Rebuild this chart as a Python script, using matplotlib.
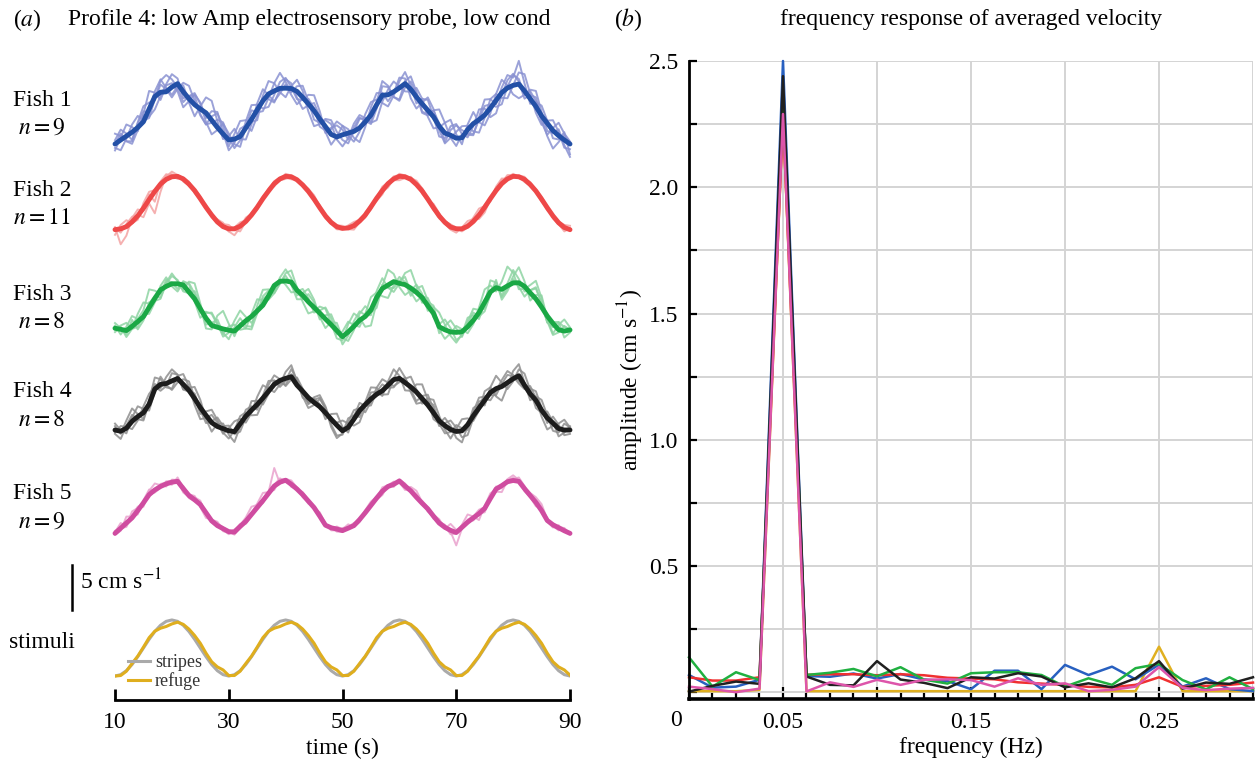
import matplotlib.pyplot as plt
import numpy as np
from matplotlib.ticker import FixedLocator

plt.rcParams['font.family'] = ['Liberation Serif', 'DejaVu Serif']
plt.rcParams['mathtext.fontset'] = 'stix'
plt.rcParams['font.size'] = 17

# ---------------- data: panel (a), velocity traces (cm/s), sampled every 1 s
time = np.arange(10, 91)

fish1_mean = [-3.57, -3.1, -2.65, -2.2, -1.65, -0.98, 0.5, 1.95, 2.45, 2.5,
              3.05, 3.45, 2.5, 1.7, 1.0, 0.5, 0.05, -0.8, -1.65, -2.4,
              -3.1, -3.0, -2.7, -1.7, -0.7, 0.4, 1.45, 2.25, 2.6, 2.9,
              2.92, 2.88, 2.55, 1.85, 1.1, 0.3, -0.65, -1.55, -2.45, -2.75,
              -2.5, -2.3, -2.1, -1.7, -1.0, -0.2, 1.0, 2.1, 2.15, 2.5,
              2.95, 3.45, 2.8, 1.9, 1.1, 0.35, -0.4, -1.5, -2.3, -2.55,
              -2.9, -2.85, -1.9, -1.2, -0.75, -0.2, 0.6, 1.5, 2.4, 2.95,
              3.25, 3.4, 2.6, 1.7, 0.8, -0.3, -1.15, -2.0, -2.6, -3.1,
              -3.57]
fish2_mean = [-3.1, -3.0, -2.75, -2.2, -1.5, -0.6, 0.4, 1.35, 2.2, 2.75,
              3.05, 3.1, 2.8, 2.2, 1.45, 0.5, -0.5, -1.4, -2.2, -2.75,
              -3.0, -3.0, -2.7, -2.15, -1.4, -0.5, 0.5, 1.4, 2.25, 2.8,
              3.1, 3.05, 2.7, 2.1, 1.35, 0.45, -0.55, -1.5, -2.25, -2.75,
              -2.95, -2.9, -2.65, -2.1, -1.4, -0.45, 0.55, 1.45, 2.25, 2.8,
              3.1, 3.05, 2.75, 2.15, 1.4, 0.45, -0.55, -1.5, -2.25, -2.8,
              -3.0, -3.0, -2.7, -2.15, -1.4, -0.5, 0.5, 1.45, 2.25, 2.8,
              3.1, 3.05, 2.75, 2.15, 1.4, 0.45, -0.55, -1.5, -2.3, -2.85,
              -3.1]
fish3_mean = [-2.47, -2.6, -2.74, -2.25, -1.7, -1.12, -0.05, 1.0, 2.0, 2.4,
              2.7, 2.7, 2.56, 1.75, 0.95, -0.2, -1.3, -2.15, -2.35, -2.55,
              -2.7, -2.8, -2.2, -1.6, -1.1, -0.45, 0.2, 1.3, 2.5, 2.98,
              3.03, 2.9, 1.95, 1.35, 0.6, -0.05, -0.7, -1.4, -2.05, -2.75,
              -3.45, -2.9, -2.25, -1.55, -1.1, -0.35, 1.1, 2.15, 2.55, 2.95,
              2.75, 2.6, 2.2, 1.7, 1.1, 0.15, -0.74, -2.3, -2.65, -2.9,
              -2.95, -2.88, -2.3, -1.55, -0.65, 0.55, 1.75, 2.25, 2.05, 2.45,
              2.8, 2.82, 2.4, 1.65, 0.95, 0.0, -1.05, -1.9, -2.65, -2.8,
              -2.67]
fish4_mean = [-2.91, -3.05, -2.7, -1.9, -1.35, -0.9, 0.1, 1.85, 2.4, 2.5,
              2.8, 3.08, 2.4, 1.7, 0.75, -0.3, -1.2, -2.05, -2.5, -2.75,
              -3.0, -3.1, -2.2, -1.3, -0.6, 0.05, 0.8, 1.6, 2.4, 2.85,
              3.1, 3.28, 2.3, 1.6, 0.85, 0.3, -0.2, -0.9, -1.65, -2.35,
              -3.0, -2.6, -1.65, -0.65, 0.05, 0.7, 1.25, 1.65, 2.3, 2.95,
              3.1, 2.6, 2.1, 1.5, 0.75, 0.0, -0.9, -1.85, -2.4, -2.85,
              -3.08, -3.0, -2.3, -1.25, -0.35, 0.55, 1.45, 1.9, 2.15, 2.6,
              3.05, 3.4, 2.3, 1.3, 0.55, -0.6, -1.5, -2.1, -2.75, -2.91,
              -2.91]
fish5_mean = [-3.1, -2.5, -1.9, -1.3, -0.45, 0.45, 1.4, 1.95, 2.35, 2.65,
              2.85, 2.95, 2.1, 1.3, 0.8, 0.25, -0.7, -1.65, -2.2, -2.55,
              -2.9, -2.95, -2.3, -1.7, -0.9, -0.1, 0.7, 1.55, 2.4, 2.85,
              3.08, 2.6, 2.05, 1.4, 0.65, -0.1, -1.1, -2.15, -2.45, -2.6,
              -2.78, -2.5, -2.2, -1.5, -0.7, 0.15, 1.0, 1.8, 2.35, 2.6,
              3.0, 2.4, 1.85, 1.1, 0.4, -0.25, -1.1, -1.9, -2.4, -2.75,
              -3.0, -2.4, -1.8, -1.3, -0.8, -0.2, 0.95, 2.05, 2.45, 2.9,
              3.05, 2.95, 2.1, 1.3, 0.5, -0.45, -1.6, -2.1, -2.45, -2.8,
              -3.1]

# single-trial deviations from the mean, in 0.15 cm/s steps
fish1_trials = [
    [3, 8, 2, -6, 4, 12, 5, -3, 6, 2,
     -8, -4, 7, 10, 3, -5, -9, -2, 6, 9,
     2, -7, -3, 5, 11, 4, -6, -10, -3, 5,
     8, 1, -6, -2, 7, 12, 6, -4, -8, 0,
     7, 3, -5, -11, -4, 6, 9, 2, -5, -1,
     8, 4, -7, -9, 1, 10, 6, -3, -8, -2,
     5, 9, 3, -6, -10, -2, 7, 5, -4, -8,
     0, 9, 13, 4, -5, -7, 2, 8, 3, -6,
     -4],
    [-5, 2, 9, 4, -3, 6, 14, 3, -6, 5,
     3, -6, -12, -2, 8, 5, -4, 7, 12, 1,
     -8, -3, 6, 2, -9, -5, 4, 10, 6, -3,
     -7, 2, 9, 5, -6, -12, -4, 5, 8, -2,
     -9, -4, 6, 10, 3, -5, 2, 11, 7, -4,
     -10, -3, 6, 2, -7, -4, 5, 13, 8, -2,
     -6, 3, -4, -9, 2, 12, 7, -3, 4, 10,
     6, 18, 6, -4, 3, 8, 2, -6, -3, 6,
     -8],
    [8, 3, -4, -9, -2, 5, -6, -10, -3, 6,
     10, 4, -5, 2, 9, 4, -7, -11, -2, 8,
     5, -4, -8, 1, 7, -2, -8, -3, 6, 12,
     5, -3, 4, 9, 2, -7, -3, 6, 11, 4,
     -4, -8, 0, 7, 3, -6, -12, -5, 4, 8,
     1, -6, -2, 7, 4, -5, -9, -1, 8, 12,
     3, -5, 4, 9, -2, -8, -4, 5, 10, 2,
     -7, -11, -3, 6, 4, -5, -9, 2, 10, 5,
     2],
    [-3, -8, -2, 6, 9, 1, -7, -2, 9, 13,
     6, -3, -8, 2, 7, -4, -9, 3, 11, 6,
     -5, 4, 12, 6, -2, -8, 3, -4, -9, -1,
     7, 4, -5, -9, -1, 6, 2, -5, 4, 12,
     7, -2, -8, -3, 6, 10, 4, -6, -9, -3,
     5, 9, 3, -5, 4, 8, 0, -8, -4, 7,
     11, 3, -6, -2, 8, 5, -7, -10, -2, 6,
     9, 2, -6, 3, 7, -2, -10, -14, -5, 4,
     1],
    [0, 5, -4, -7, 3, 8, -2, 4, 10, 3,
     -6, -2, 5, -3, -9, 2, 12, 15, 5, -4,
     3, 8, -2, -9, -4, 5, 9, -1, -8, -4,
     3, -5, -10, -1, 4, 2, -6, -3, 5, 9,
     4, -5, 3, 8, 1, -7, -3, 7, 6, -4,
     -9, 2, 10, 4, -6, -3, 5, 2, -7, 4,
     10, 6, -3, -8, 0, 7, 3, -5, -9, 1,
     8, 4, -3, 7, 12, 3, -6, -2, 5, -4,
     -10],
]
fish2_trials = [
    [2, -12, -7, 3, 5, -2, 4, -8, 2, 4,
     1, -2, 1, 2, -1, 0, 1, -2, -1, 2,
     3, -1, -4, 0, 2, 1, -1, 0, 2, 1,
     -1, -2, 0, 1, 2, 0, -1, 1, 0, -2,
     -1, 2, 3, 1, -1, -2, 0, 3, 1, -1,
     -3, -1, 1, 3, 2, -1, -2, 0, 1, 2,
     0, -2, -1, 3, 5, 1, -2, 3, 4, 0,
     -1, 1, 2, 0, -1, -2, 0, 1, -1, -3,
     1],
    [-4, 3, 5, -1, -3, 4, 6, 1, -3, 2,
     4, 1, -2, -1, 1, 2, 0, -1, 2, 3,
     -2, -5, -1, 3, 1, -1, 2, 1, -2, -1,
     2, 1, -1, 0, 2, 3, 1, -2, -1, 1,
     2, -1, -3, -1, 2, 1, -2, -3, 0, 2,
     1, -1, 2, 1, -2, -1, 3, 2, -1, -2,
     -3, 1, 4, 2, -3, -4, 0, 2, 3, 1,
     2, 0, -2, -1, 1, 2, 1, -2, -1, 2,
     -1],
    [1, -3, 2, 4, 1, -7, -3, -17, -6, 3,
     2, -1, 1, 0, -2, -1, 2, 1, -1, 0,
     -2, 1, 3, 1, -1, -2, 0, 2, 1, -1,
     -2, 0, 1, -1, 0, 1, 2, 1, -1, -2,
     0, 1, 2, -1, -2, 0, 1, -1, -3, 0,
     2, 1, -1, 0, 2, 1, -1, -2, 1, 2,
     1, 0, -1, 2, 1, 2, 0, -1, 1, 3,
     1, -1, 0, 2, 1, -1, -2, 0, 1, 2,
     3],
]
fish3_trials = [
    [2, -4, 3, 8, 2, 5, 14, 6, -3, 5,
     1, -4, 3, 6, -2, -7, 4, 10, 3, -6,
     -2, 8, 12, 3, -5, -2, 7, 4, -6, -2,
     6, 9, 2, -5, -9, -3, 5, 8, 1, -6,
     -3, 6, 10, 2, -8, -12, -4, 3, -2, -8,
     0, 9, 14, 5, -4, 3, 6, -2, -7, -1,
     5, 2, -5, -3, 4, 10, 5, -3, 6, 15,
     8, -5, -2, 6, 14, 7, -4, -9, -2, 4,
     0],
    [-3, 2, -5, -2, 6, 11, 3, 2, -6, 3,
     8, 2, -5, -1, 6, 2, -8, -3, 9, 14,
     5, -4, 2, -6, -10, -2, 5, 1, -5, 3,
     9, 3, -4, 2, 10, 6, -3, -7, 2, 6,
     -1, -7, -3, 5, 8, -2, -8, 2, 12, 6,
     -3, -8, -2, 6, 3, -4, 5, 11, 4, -3,
     -8, -2, 7, 4, -5, -1, 9, 4, -6, -2,
     5, 12, 4, -6, 3, 9, -2, -8, 4, 9,
     2],
    [4, 1, -3, 5, -6, -3, 4, -2, -7, 2,
     6, 3, -4, 8, 12, 4, -5, 2, 6, -3,
     -7, 3, 6, -4, -8, 4, 12, 5, -4, 2,
     -3, -8, -1, 5, 3, -4, 2, 9, 5, -3,
     4, 8, 1, -5, 2, 10, 4, -6, -10, -3,
     5, 2, -6, 3, 9, 4, -3, 2, 8, 3,
     -6, -3, 4, 9, 2, -5, -2, 6, -8, -4,
     3, -3, -8, 2, 8, 3, -5, 1, 6, -5,
     -2],
    [-1, 3, 6, -2, -4, 2, -5, -3, 3, 7,
     -2, -6, 2, 7, 4, -3, 5, 9, 2, -4,
     3, 5, -3, -6, 2, 9, 4, -3, -6, -1,
     4, -2, -7, -3, 6, 4, -5, 3, 8, 2,
     -6, -3, 4, 7, 1, -4, 5, 8, -2, -5,
     2, 6, -3, -7, 1, 6, 2, -5, 3, 9,
     3, -4, 2, 6, -3, -7, -2, 4, -5, 2,
     10, 3, -4, 2, 9, 3, -5, -3, 6, 3,
     1],
]
fish4_trials = [
    [3, -2, 6, 10, 2, -5, 3, 9, 4, -3,
     -6, 2, 8, 3, -5, -9, -2, 6, 3, -4,
     2, 8, 4, -5, -2, 6, 10, 2, -6, -3,
     5, 9, 3, -4, -8, -2, 6, 4, -6, -10,
     -2, 7, 3, -5, 2, 9, 5, -3, -7, 1,
     8, 4, -4, -9, -3, 5, 10, 4, -3, -7,
     2, 9, 5, -4, -2, 7, 4, -6, -11, -3,
     6, 9, 2, -5, 3, 8, 2, -6, -3, 5,
     2],
    [-2, 4, 1, -6, -3, 5, 8, 2, -5, -2,
     6, 3, -4, 2, 9, 6, -3, -7, 2, 4,
     -3, -8, -2, 5, 3, -4, 2, 8, 3, -5,
     -2, 6, 4, -5, -3, 4, 9, 5, -3, 2,
     8, 3, -5, -9, -2, 5, 2, -4, 3, 8,
     2, -6, -3, 6, 11, 4, -5, -2, 6, 3,
     -5, -9, -1, 6, 3, -4, 4, 10, 3, -5,
     -2, 5, 9, 3, -6, -2, 5, 1, -6, -2,
     3],
    [5, 1, -4, 3, 8, 3, -5, -2, 6, -1,
     -7, -3, 4, 7, 1, -5, 3, 10, 5, -3,
     -6, 1, 6, 3, -4, -8, -3, 5, 7, 1,
     -6, -2, 6, 2, -5, 2, 7, 3, -4, -8,
     -3, 4, 7, 2, -6, -2, 5, 9, 2, -5,
     -3, 4, -2, -7, 2, 8, 3, -4, 2, 7,
     3, -5, -8, -2, 5, 1, -6, -2, 5, 9,
     3, -4, -1, 6, 2, -5, -9, -2, 4, 8,
     2],
    [-3, -6, 2, 5, -2, -6, 1, 4, -3, 5,
     9, 3, -4, -1, 4, -2, -6, 1, 7, 2,
     4, -2, -6, -1, 7, 3, -5, -2, 3, -2,
     -5, 2, 5, -1, -4, 3, 2, -5, 4, 9,
     3, -4, 2, 6, -1, -5, 2, 5, -2, -6,
     -1, 3, 8, 2, -4, 3, 6, -2, -6, -2,
     5, 2, -4, 3, 8, 3, -2, -5, 2, 6,
     2, -6, -3, 4, 7, 2, -4, 5, 3, -4,
     -3],
]
fish5_trials = [
    [1, 4, -2, 5, 2, -3, 3, 5, 1, -2,
     2, 1, -3, -1, 2, 3, -2, 1, 3, -1,
     -2, 1, 2, -1, 1, 3, 6, 1, -3, 2,
     1, -2, 0, 2, 1, -1, 3, 1, -2, -1,
     2, 1, -1, 0, 2, 3, 1, -1, 0, 2,
     -1, -3, 1, 2, 0, -2, 1, 3, -1, 5,
     2, -1, 1, -2, 0, -3, 1, 2, -1, 2,
     4, 1, -2, -1, 2, 3, -1, -2, 1, 2,
     0],
    [-1, -2, 5, 1, -3, 2, 4, -1, 2, 1,
     -2, 3, 1, -2, -1, 2, 0, -1, 2, -2,
     -1, 2, 1, 3, 6, 2, -2, 1, 14, -1,
     1, 3, 1, -2, -1, 0, 2, 1, -1, 2,
     1, 3, -1, -2, 1, 0, -1, 3, 1, 2,
     -1, -2, 3, 5, 1, -2, -1, 2, 1, -3,
     -1, 2, 6, 1, -5, 2, 4, 0, -2, 1,
     2, -1, 1, 2, 4, 5, 1, -2, 2, -1,
     1],
    [2, 0, -3, 2, 3, -1, 1, -2, -1, 2,
     1, -1, 2, 1, 3, -2, -4, 1, 2, 1,
     0, -2, 1, -2, -1, 2, 1, -1, 1, 3,
     -1, 2, 1, -1, -2, 1, 2, 0, 1, -2,
     -1, 1, 2, -1, 1, 2, -1, -3, 1, -2,
     1, 2, 0, -1, 2, 1, -2, 1, 2, -1,
     -10, -1, 2, 1, 3, 1, 2, -2, -5, 1,
     1, 3, 2, -1, -3, 2, 1, -1, -2, 2,
     -1],
]
trial_step = 0.15

stripes = [-3.26, -3.10, -2.64, -1.92, -1.01, 0.0, 1.01, 1.92, 2.64, 3.10,
           3.26, 3.10, 2.64, 1.92, 1.01, 0.0, -1.01, -1.92, -2.64, -3.10,
           -3.26, -3.10, -2.64, -1.92, -1.01, 0.0, 1.01, 1.92, 2.64, 3.10,
           3.26, 3.10, 2.64, 1.92, 1.01, 0.0, -1.01, -1.92, -2.64, -3.10,
           -3.26, -3.10, -2.64, -1.92, -1.01, 0.0, 1.01, 1.92, 2.64, 3.10,
           3.26, 3.10, 2.64, 1.92, 1.01, 0.0, -1.01, -1.92, -2.64, -3.10,
           -3.26, -3.10, -2.64, -1.92, -1.01, 0.0, 1.01, 1.92, 2.64, 3.10,
           3.26, 3.10, 2.64, 1.92, 1.01, 0.0, -1.01, -1.92, -2.64, -3.10,
           -3.26]
refuge = [-3.26, -3.2, -2.7, -1.8, -0.95, 0.1, 1.2, 1.95, 2.3, 2.5,
          2.8, 3.0, 2.75, 2.2, 1.45, 0.55, -0.6, -1.6, -2.2, -2.55,
          -3.2, -3.2, -2.7, -1.8, -0.95, 0.1, 1.2, 1.95, 2.3, 2.5,
          2.8, 3.0, 2.75, 2.2, 1.45, 0.55, -0.6, -1.6, -2.2, -2.55,
          -3.2, -3.2, -2.7, -1.8, -0.95, 0.1, 1.2, 1.95, 2.3, 2.5,
          2.8, 3.0, 2.75, 2.2, 1.45, 0.55, -0.6, -1.6, -2.2, -2.55,
          -3.2, -3.2, -2.7, -1.8, -0.95, 0.1, 1.2, 1.95, 2.3, 2.5,
          2.8, 3.0, 2.75, 2.2, 1.45, 0.55, -0.6, -1.6, -2.2, -2.55,
          -3.15]

fish_n = [9, 11, 8, 8, 9]

# ---------------- data: panel (b), amplitude spectra (cm/s), bins of 1/80 Hz
freq = np.arange(25) / 80
amp_blue = [0.069, 0.019, 0.023, 0.05, 2.50, 0.065, 0.062, 0.075, 0.055, 0.073,
            0.051, 0.045, 0.013, 0.086, 0.086, 0.013, 0.109, 0.069, 0.102, 0.052,
            0.11, 0.023, 0.056, 0.013, 0.005]
amp_red = [0.06, 0.047, 0.047, 0.06, 2.28, 0.07, 0.072, 0.072, 0.068, 0.072,
           0.068, 0.058, 0.055, 0.052, 0.04, 0.035, 0.03, 0.022, 0.02, 0.03,
           0.06, 0.022, 0.026, 0.03, 0.039]
amp_green = [0.139, 0.023, 0.08, 0.049, 2.33, 0.069, 0.078, 0.093, 0.064, 0.1,
             0.051, 0.035, 0.076, 0.08, 0.08, 0.069, 0.023, 0.056, 0.03, 0.096,
             0.113, 0.049, 0.012, 0.06, 0.013]
amp_black = [0.003, 0.026, 0.043, 0.034, 2.44, 0.063, 0.03, 0.028, 0.124, 0.051,
             0.038, 0.017, 0.06, 0.055, 0.076, 0.063, 0.02, 0.036, 0.02, 0.056,
             0.124, 0.015, 0.039, 0.034, 0.06]
amp_pink = [0.023, 0.013, 0.001, 0.015, 2.29, 0.004, 0.04, 0.022, 0.05, 0.03,
            0.05, 0.052, 0.049, 0.023, 0.056, 0.03, 0.036, 0.005, 0.01, 0.023,
            0.1, 0.018, 0.009, 0.015, 0.018]
amp_yellow = [0.005, 0.005, 0.005, 0.01, 2.28, 0.005, 0.005, 0.005, 0.005, 0.005,
              0.005, 0.005, 0.005, 0.005, 0.005, 0.005, 0.005, 0.005, 0.005, 0.005,
              0.181, 0.005, 0.005, 0.005, 0.005]

# colours
mean_cols = ['#2350a6', '#ee4848', '#1aa845', '#1c1c1c', '#cf4ca0']
trial_cols = ['#8a92d2', '#f4a3a3', '#8ed4a3', '#8e8e8e', '#e9a1cd']
spec_cols = {'yellow': '#e0b020', 'blue': '#2860c0', 'red': '#f03030',
             'green': '#20b040', 'black': '#202020', 'pink': '#dd55aa'}

# ---------------- figure (pixel helpers for layout)
W, H = 1257, 765
fig = plt.figure(figsize=(W / 100, H / 100), dpi=100)


def fx(px):
    return px / W


def fy(py):
    return 1 - py / H


# panel (a): one axes, traces stacked with vertical offsets (8.6 px per cm/s)
px_per_unit = 8.6
top_px, bot_px = 60, 700
ax1 = fig.add_axes([fx(115), fy(bot_px), fx(570) - fx(115), (bot_px - top_px) / H])
ax1.set_xlim(10, 90)
ax1.set_ylim(-(bot_px - top_px) / px_per_unit, 0)


def ypx(py):
    return -(py - top_px) / px_per_unit


centers = [113.3, 203, 307, 405, 506.7]
means = [fish1_mean, fish2_mean, fish3_mean, fish4_mean, fish5_mean]
trials = [fish1_trials, fish2_trials, fish3_trials, fish4_trials, fish5_trials]

for i in range(5):
    off = ypx(centers[i])
    m = np.array(means[i])
    for r in trials[i]:
        ax1.plot(time, m + np.array(r) * trial_step + off, color=trial_cols[i],
                 lw=1.4, alpha=0.85, clip_on=False)
    ax1.plot(time, m + off, color=mean_cols[i], lw=3.5, clip_on=False,
             solid_capstyle='round')
    fig.text(fx(42), fy(centers[i] - 13), f'Fish {i + 1}', ha='center', va='center')
    fig.text(fx(42), fy(centers[i] + 15), rf'$n = {fish_n[i]}$', ha='center', va='center')

stim_off = ypx(648)
ax1.plot(time, np.array(stripes) + stim_off, color='#aaaaaa', lw=2.2, label='stripes')
ax1.plot(time, np.array(refuge) + stim_off, color='#dfae1e', lw=2.2, label='refuge')
leg = ax1.legend(loc='center left', bbox_to_anchor=(fx(128), fy(672)),
                 bbox_transform=fig.transFigure, frameon=False, fontsize=13,
                 handlelength=1.2, handletextpad=0.3, labelspacing=0.05,
                 borderpad=0, borderaxespad=0)
for t in leg.get_texts():
    t.set_color('#333333')
fig.text(fx(42), fy(643), 'stimuli', ha='center', va='center')

# scale bar
t_bar = 10 + (72 - 115) * 80 / 455
ax1.plot([t_bar, t_bar], [ypx(565), ypx(610)], color='k', lw=1.8, clip_on=False)
fig.text(fx(80), fy(582), r'5 cm s$^{-1}$', ha='left', va='center')

for s in ['top', 'right', 'left']:
    ax1.spines[s].set_visible(False)
ax1.spines['bottom'].set_linewidth(2)
ax1.set_xticks([10, 30, 50, 70, 90])
ax1.set_yticks([])
ax1.tick_params(axis='x', direction='in', length=8, width=2, pad=9)
ax1.set_xlabel('time (s)', labelpad=3)

fig.text(fx(27), fy(20), r'($a$)', ha='center', va='center')
fig.text(fx(68), fy(20), 'Profile 4: low Amp electrosensory probe, low cond',
         ha='left', va='center')

# panel (b)
ax2 = fig.add_axes([fx(689), fy(699), (1253 - 689) / W, (699 - 61) / H])
ax2.set_xlim(0, 0.3)
ax2.set_ylim(-0.026, 2.5)
ax2.set_axisbelow(True)

series = [('yellow', amp_yellow), ('blue', amp_blue), ('red', amp_red),
          ('green', amp_green), ('black', amp_black), ('pink', amp_pink)]
for name, vals in series:
    ax2.plot(freq, vals, color=spec_cols[name], lw=1.8, clip_on=False)

ax2.set_xticks([0, 0.05, 0.1, 0.15, 0.2, 0.25, 0.3])
ax2.set_xticklabels(['', '0.05', '', '0.15', '', '0.25', ''])
ax2.xaxis.set_minor_locator(FixedLocator(list(freq)))
ax2.set_yticks([0.5, 1.0, 1.5, 2.0, 2.5])
ax2.set_yticklabels(['0.5', '1.0', '1.5', '2.0', '2.5'])
ax2.yaxis.set_minor_locator(FixedLocator([0, 0.25, 0.75, 1.25, 1.75, 2.25]))
ax2.xaxis.grid(True, which='major', color='#d4d4d4', lw=1.4)
ax2.yaxis.grid(True, which='both', color='#d4d4d4', lw=1.4)
ax2.tick_params(axis='x', which='major', direction='in', length=9, width=1.6, pad=9)
ax2.tick_params(axis='x', which='minor', direction='in', length=5, width=1.6)
ax2.tick_params(axis='y', which='both', direction='in', length=6, width=1.6, pad=8)
for s in ['top', 'right']:
    ax2.spines[s].set_visible(False)
ax2.spines['left'].set_linewidth(2)
ax2.spines['bottom'].set_linewidth(2.6)
ax2.set_xlabel('frequency (Hz)', labelpad=3)
ax2.set_ylabel(r'amplitude (cm s$^{-1}$)', labelpad=2)
fig.text(fx(676), fy(721), '0', ha='center', va='center')

fig.text(fx(628), fy(20), r'($b$)', ha='center', va='center')
fig.text(fx(971), fy(20), 'frequency response of averaged velocity',
         ha='center', va='center')

fig.savefig('out.png', dpi=100)
